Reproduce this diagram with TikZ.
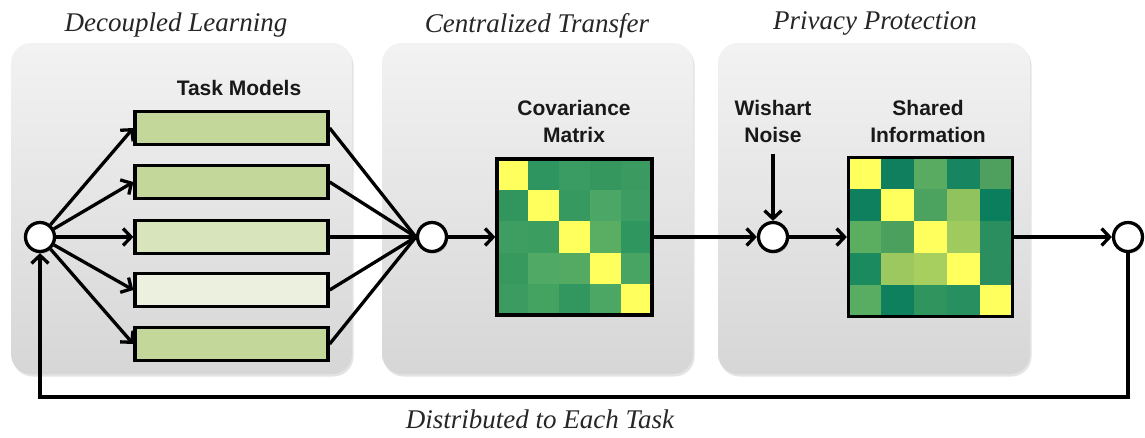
\documentclass[tikz,border=0pt]{standalone}
\usepackage{fontspec}
\setmainfont{Liberation Serif}
\setsansfont{Liberation Sans}
\usetikzlibrary{arrows.meta,shadows}

\definecolor{modelA}{HTML}{C4D79B}
\definecolor{modelB}{HTML}{D8E4BC}
\definecolor{modelC}{HTML}{EBF1DE}

\begin{document}
\begin{tikzpicture}[x=1pt, y=-1pt,
    panel/.style={rounded corners=20pt, top color=gray!10, bottom color=gray!32,
        drop shadow={opacity=0.22, shadow xshift=1.5pt, shadow yshift=-2.5pt}},
    heading/.style={anchor=base, font=\fontsize{27}{30}\selectfont\itshape, text=black!85},
    caption/.style={align=center, font=\sffamily\bfseries\fontsize{21}{27}\selectfont, text=black!90},
    modelbar/.style={draw, line width=3.3pt, minimum width=193pt, minimum height=33pt, inner sep=0pt},
    matbox/.style={draw, line width=3.3pt, inner sep=0pt},
    junction/.style={circle, draw, fill=white, line width=3.3pt, minimum size=29pt, inner sep=0pt,
        drop shadow={opacity=0.4, shadow xshift=1.5pt, shadow yshift=-2pt}},
    link/.style={line width=3.3pt},
    flow/.style={line width=3.3pt, -{Straight Barb[length=8pt, width=17pt]}}
]

    \useasboundingbox (0,0) rectangle (1145,437);

    % Stage panels
    \node[panel, minimum width=341pt, minimum height=331pt] (learnpanel) at (181.5,208.5) {};
    \node[panel, minimum width=311pt, minimum height=331pt] (transpanel) at (537.5,208.5) {};
    \node[panel, minimum width=312pt, minimum height=331pt] (privpanel) at (874,208.5) {};

    % Stage titles
    \node[heading] at (176,31) {Decoupled Learning};
    \node[heading] at (537,32) {Centralized Transfer};
    \node[heading] at (875,29) {Privacy Protection};

    % Task models
    \node[caption] at (239,88) {Task Models};
    \foreach \i/\y/\col in {1/128/modelA, 2/182/modelA, 3/237/modelB, 4/290/modelC, 5/344/modelA} {
        \node[modelbar, fill=\col] (task\i) at (231.5,\y) {};
    }

    % Covariance matrix cells (diagonal in yellow)
    \foreach [count=\r from 0] \rowcols in {
        {FFFF5E,2E9560,3A9C62,35975E,3A9A60},
        {31955E,FFFF5E,36995F,4CA665,3C9C62},
        {3E9E61,3B9D60,FFFF5E,5AAE64,309660},
        {38995F,50A964,55AA63,FFFF5E,47A462},
        {3B9B60,45A362,31975E,4CA765,FFFF5E}} {
        \foreach [count=\c from 0] \hex in \rowcols {
            \definecolor{cell}{HTML}{\hex}
            \fill[cell] (497+31*\c,159+31.2*\r) rectangle ++(31.4,31.6);
        }
    }
    \node[matbox, minimum width=155pt, minimum height=156pt] (covmat) at (574.5,237) {};
    \node[caption] at (574,121) {Covariance\\Matrix};

    % Shared information cells
    \foreach [count=\r from 0] \rowcols in {
        {FFFF5E,0F7F5E,58AB60,178560,4FA05F},
        {0E805E,FFFF5E,4CA25F,90C35E,0B7E5D},
        {5BAE60,4CA05E,FFFF5E,9ECA5E,2B8E5E},
        {1B8A5E,9CC85F,A6CF5F,FFFF5E,2A8E5E},
        {59AD62,0F805D,30945E,289060,FFFF5E}} {
        \foreach [count=\c from 0] \hex in \rowcols {
            \definecolor{cell}{HTML}{\hex}
            \fill[cell] (848.5+32.8*\c,157.5+31.8*\r) rectangle ++(33.2,32.2);
        }
    }
    \node[matbox, minimum width=164pt, minimum height=159pt] (shared) at (930.5,237) {};
    \node[caption] at (928,121) {Shared\\Information};

    % Noise input
    \node[caption] (noise) at (773,121) {Wishart\\Noise};

    % Junctions
    \node[junction] (split) at (40,237) {};
    \node[junction] (merge) at (432,237) {};
    \node[junction] (noisy) at (773,237) {};
    \node[junction] (result) at (1128,237) {};

    % Fan out to the task models and back in
    \foreach \i in {1,...,5} {
        \draw[flow] (split) -- (task\i.west);
        \draw[link] (task\i.east) -- (merge.west);
    }

    % Main chain
    \draw[flow] (merge) -- (covmat.west);
    \draw[flow] (covmat.east) -- (noisy);
    \draw[flow, shorten <=8pt] (noise.south) -- (noisy);
    \draw[flow] (noisy) -- (shared.west);
    \draw[flow] (shared.east) -- (result);

    % Feedback loop
    \coordinate (back) at (40,397);
    \draw[flow] (result.south) |- (back) -- (split.south);
    \node[heading] at (540,428) {Distributed to Each Task};

\end{tikzpicture}
\end{document}
